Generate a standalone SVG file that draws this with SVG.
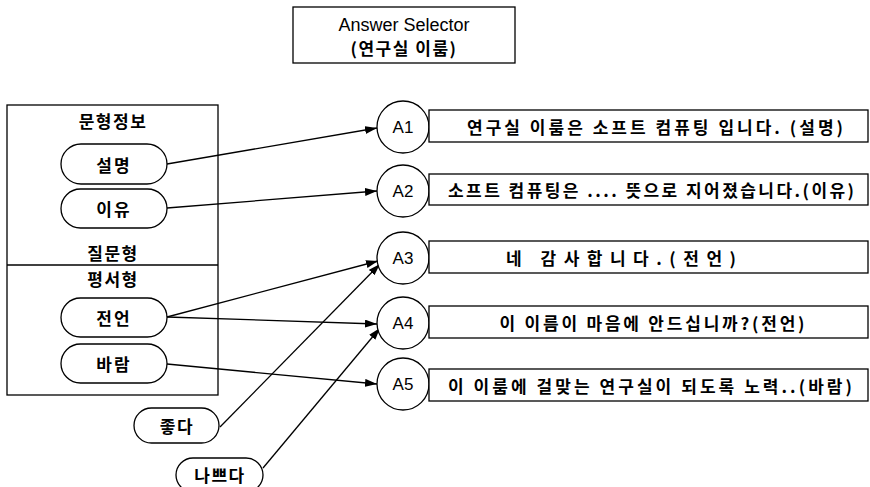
<svg xmlns="http://www.w3.org/2000/svg" width="870" height="487" viewBox="0 0 870 487">
<defs>
<style>
.ln{fill:none;stroke:#000;stroke-width:1.3}
.sh{fill:#fff;stroke:#000;stroke-width:1.3}
.kr{font-family:"Noto Sans CJK KR","Noto Sans",sans-serif;font-size:17px;font-weight:bold;fill:#000;text-anchor:middle;dominant-baseline:central}
.en{font-family:"Liberation Sans",Arial,sans-serif;fill:#000;text-anchor:middle;dominant-baseline:central}
</style>
<marker id="ah" markerUnits="userSpaceOnUse" markerWidth="13" markerHeight="9" refX="12" refY="4" orient="auto">
<path d="M0,0 L12,4 L0,8 Z" fill="#000"/>
</marker>
</defs>
<rect width="870" height="487" fill="#fff"/>

<g id="selector">
<rect class="sh" x="293" y="7" width="222" height="56"/>
<text class="en" x="404" y="25" font-size="18">Answer Selector</text>
<text class="kr" x="404" y="47" letter-spacing="1.5">(연구실 이룸)</text>
</g>

<g id="sentence-info">
<rect class="ln" x="7" y="105" width="211" height="290"/>
<line class="ln" x1="7" y1="265" x2="218" y2="265"/>
<text class="kr" x="113" y="120" letter-spacing="1.5">문형정보</text>
<text class="kr" x="113" y="252" letter-spacing="1.5">질문형</text>
<text class="kr" x="113" y="278" letter-spacing="1.5">평서형</text>
</g>

<g id="n-seolmyeong">
<rect class="sh" x="61" y="144" width="106" height="40" rx="20"/>
<text class="kr" x="114" y="164" letter-spacing="2">설명</text>
</g>
<g id="n-iyu">
<rect class="sh" x="61" y="189" width="106" height="39" rx="19.5"/>
<text class="kr" x="114" y="208.5" letter-spacing="2">이유</text>
</g>
<g id="n-jeoneon">
<rect class="sh" x="61" y="298" width="106" height="39" rx="19.5"/>
<text class="kr" x="114" y="317.5" letter-spacing="2">전언</text>
</g>
<g id="n-baram">
<rect class="sh" x="61" y="344" width="106" height="39" rx="19.5"/>
<text class="kr" x="114" y="363.5" letter-spacing="2">바람</text>
</g>
<g id="n-jota">
<rect class="sh" x="134" y="408" width="85" height="35" rx="17.5"/>
<text class="kr" x="177" y="425.5" letter-spacing="1.5">좋다</text>
</g>
<g id="n-nappeuda">
<rect class="sh" x="176" y="458" width="87" height="34" rx="17"/>
<text class="kr" x="220" y="474" letter-spacing="1.5">나쁘다</text>
</g>

<g id="connectors">
<line class="ln" x1="167" y1="164" x2="377" y2="128" marker-end="url(#ah)"/>
<line class="ln" x1="167" y1="208" x2="377" y2="191" marker-end="url(#ah)"/>
<line class="ln" x1="167" y1="317" x2="378" y2="261" marker-end="url(#ah)"/>
<line class="ln" x1="167" y1="317" x2="377" y2="324" marker-end="url(#ah)"/>
<line class="ln" x1="167" y1="364" x2="377" y2="384" marker-end="url(#ah)"/>
<line class="ln" x1="220" y1="427" x2="380" y2="264" marker-end="url(#ah)"/>
<line class="ln" x1="263" y1="468" x2="380" y2="328" marker-end="url(#ah)"/>
</g>

<g id="A1">
<circle class="sh" cx="403" cy="127" r="26"/>
<text class="en" x="403" y="127" font-size="17">A1</text>
<rect class="sh" x="429" y="110" width="439" height="32"/>
<text class="kr" x="655" y="126" textLength="376" lengthAdjust="spacing">연구실 이룸은 소프트 컴퓨팅 입니다. (설명)</text>
</g>
<g id="A2">
<circle class="sh" cx="403" cy="191" r="26"/>
<text class="en" x="403" y="191" font-size="17">A2</text>
<rect class="sh" x="429" y="174" width="439" height="31"/>
<text class="kr" x="651" y="189.5" textLength="406" lengthAdjust="spacing">소프트 컴퓨팅은 .... 뜻으로 지어졌습니다.(이유)</text>
</g>
<g id="A3">
<circle class="sh" cx="403" cy="258" r="26"/>
<text class="en" x="403" y="258" font-size="17">A3</text>
<rect class="sh" x="429" y="241" width="439" height="32"/>
<text class="kr" x="621" y="257" textLength="230" lengthAdjust="spacing">네 감사합니다.(전언)</text>
</g>
<g id="A4">
<circle class="sh" cx="403" cy="323" r="26"/>
<text class="en" x="403" y="323" font-size="17">A4</text>
<rect class="sh" x="429" y="306" width="439" height="32"/>
<text class="kr" x="652" y="322" textLength="305" lengthAdjust="spacing">이 이름이 마음에 안드십니까?(전언)</text>
</g>
<g id="A5">
<circle class="sh" cx="403" cy="384" r="26"/>
<text class="en" x="403" y="384" font-size="17">A5</text>
<rect class="sh" x="429" y="369" width="439" height="32"/>
<text class="kr" x="650" y="385" textLength="404" lengthAdjust="spacing">이 이룸에 걸맞는 연구실이 되도록 노력..(바람)</text>
</g>
</svg>
